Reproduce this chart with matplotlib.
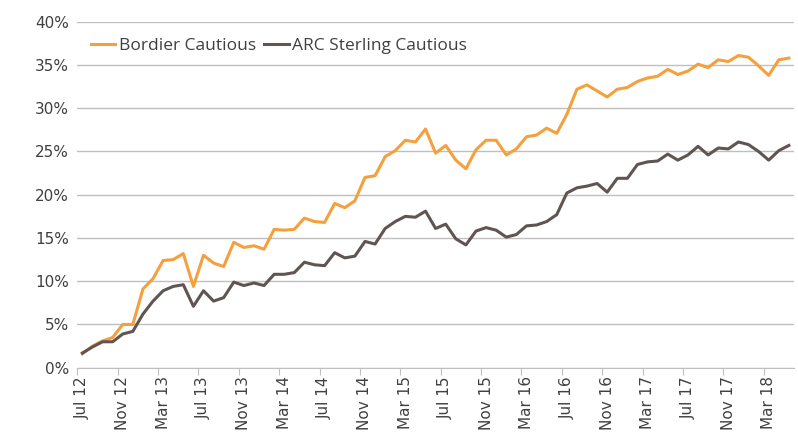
import numpy as np
import pandas as pd
import matplotlib
matplotlib.use("Agg")
import matplotlib.pyplot as plt
from matplotlib.ticker import FixedLocator, PercentFormatter

# monthly cumulative performance (%), Jul 12 - May 18
months = pd.date_range("2012-07-01", periods=71, freq="MS").strftime("%b %y").tolist()

bordier = [1.6, 2.5, 3.1, 3.5, 5.0, 5.0, 9.1, 10.3, 12.4, 12.5, 13.2, 9.4,
           13.0, 12.1, 11.7, 14.5, 13.9, 14.1, 13.7, 16.0, 15.9, 16.0, 17.3, 16.9,
           16.8, 19.0, 18.5, 19.3, 22.0, 22.2, 24.4, 25.1, 26.3, 26.1, 27.6, 24.8,
           25.7, 24.0, 23.0, 25.2, 26.3, 26.3, 24.6, 25.3, 26.7, 26.9, 27.7, 27.1,
           29.3, 32.2, 32.7, 32.0, 31.3, 32.2, 32.4, 33.1, 33.5, 33.7, 34.5, 33.9,
           34.3, 35.1, 34.7, 35.6, 35.4, 36.1, 35.9, 34.9, 33.8, 35.6, 35.8]

arc = [1.7, 2.4, 3.0, 3.0, 3.9, 4.2, 6.2, 7.7, 8.9, 9.4, 9.6, 7.1,
       8.9, 7.7, 8.1, 9.9, 9.5, 9.8, 9.5, 10.8, 10.8, 11.0, 12.2, 11.9,
       11.8, 13.3, 12.7, 12.9, 14.6, 14.3, 16.1, 16.9, 17.5, 17.4, 18.1, 16.1,
       16.6, 14.9, 14.2, 15.8, 16.2, 15.9, 15.1, 15.4, 16.4, 16.5, 16.9, 17.7,
       20.2, 20.8, 21.0, 21.3, 20.3, 21.9, 21.9, 23.5, 23.8, 23.9, 24.7, 24.0,
       24.6, 25.6, 24.6, 25.4, 25.3, 26.1, 25.8, 25.0, 24.0, 25.1, 25.7]

x = np.arange(len(months))

fig = plt.figure(figsize=(7.98, 4.44), dpi=100)
ax = fig.add_axes([0.0969, 0.1718, 0.898, 0.7792])

ax.plot(x, bordier, color="#F5A03C", lw=2.2, label="Bordier Cautious")
ax.plot(x, arc, color="#5F5552", lw=2.2, label="ARC Sterling Cautious")

ax.set_ylim(0, 40)
ax.set_xlim(-0.5, len(months) - 0.5)
ax.set_yticks(np.arange(0, 41, 5))
ax.yaxis.set_major_formatter(PercentFormatter(decimals=0))
ax.grid(axis="y", color="#BFBFBF", lw=1)
ax.set_axisbelow(True)

# ticks between categories, labels on every 4th month
ax.xaxis.set_major_locator(FixedLocator(np.arange(-0.5, len(months), 4)))
ax.xaxis.set_minor_locator(FixedLocator(x[::4]))
ax.set_xticklabels([])
ax.set_xticklabels(months[::4], minor=True, rotation=90)
ax.tick_params(axis="x", which="major", length=5, color="#BFBFBF", direction="out")
ax.tick_params(axis="x", which="minor", length=0, pad=6, labelsize=11, labelcolor="#404040")
ax.tick_params(axis="y", length=0, pad=6, labelsize=11, labelcolor="#404040")

for s in ["left", "right", "top"]:
    ax.spines[s].set_visible(False)
ax.spines["bottom"].set_color("#BFBFBF")

leg = ax.legend(loc="upper left", bbox_to_anchor=(-0.003, 0.998), ncol=2, frameon=False,
                prop={"family": "Open Sans", "size": 12.5}, handlelength=1.4,
                handletextpad=0.2, columnspacing=0.5)
for t in leg.get_texts():
    t.set_color("#404040")

fig.savefig("out.png", dpi=100)
